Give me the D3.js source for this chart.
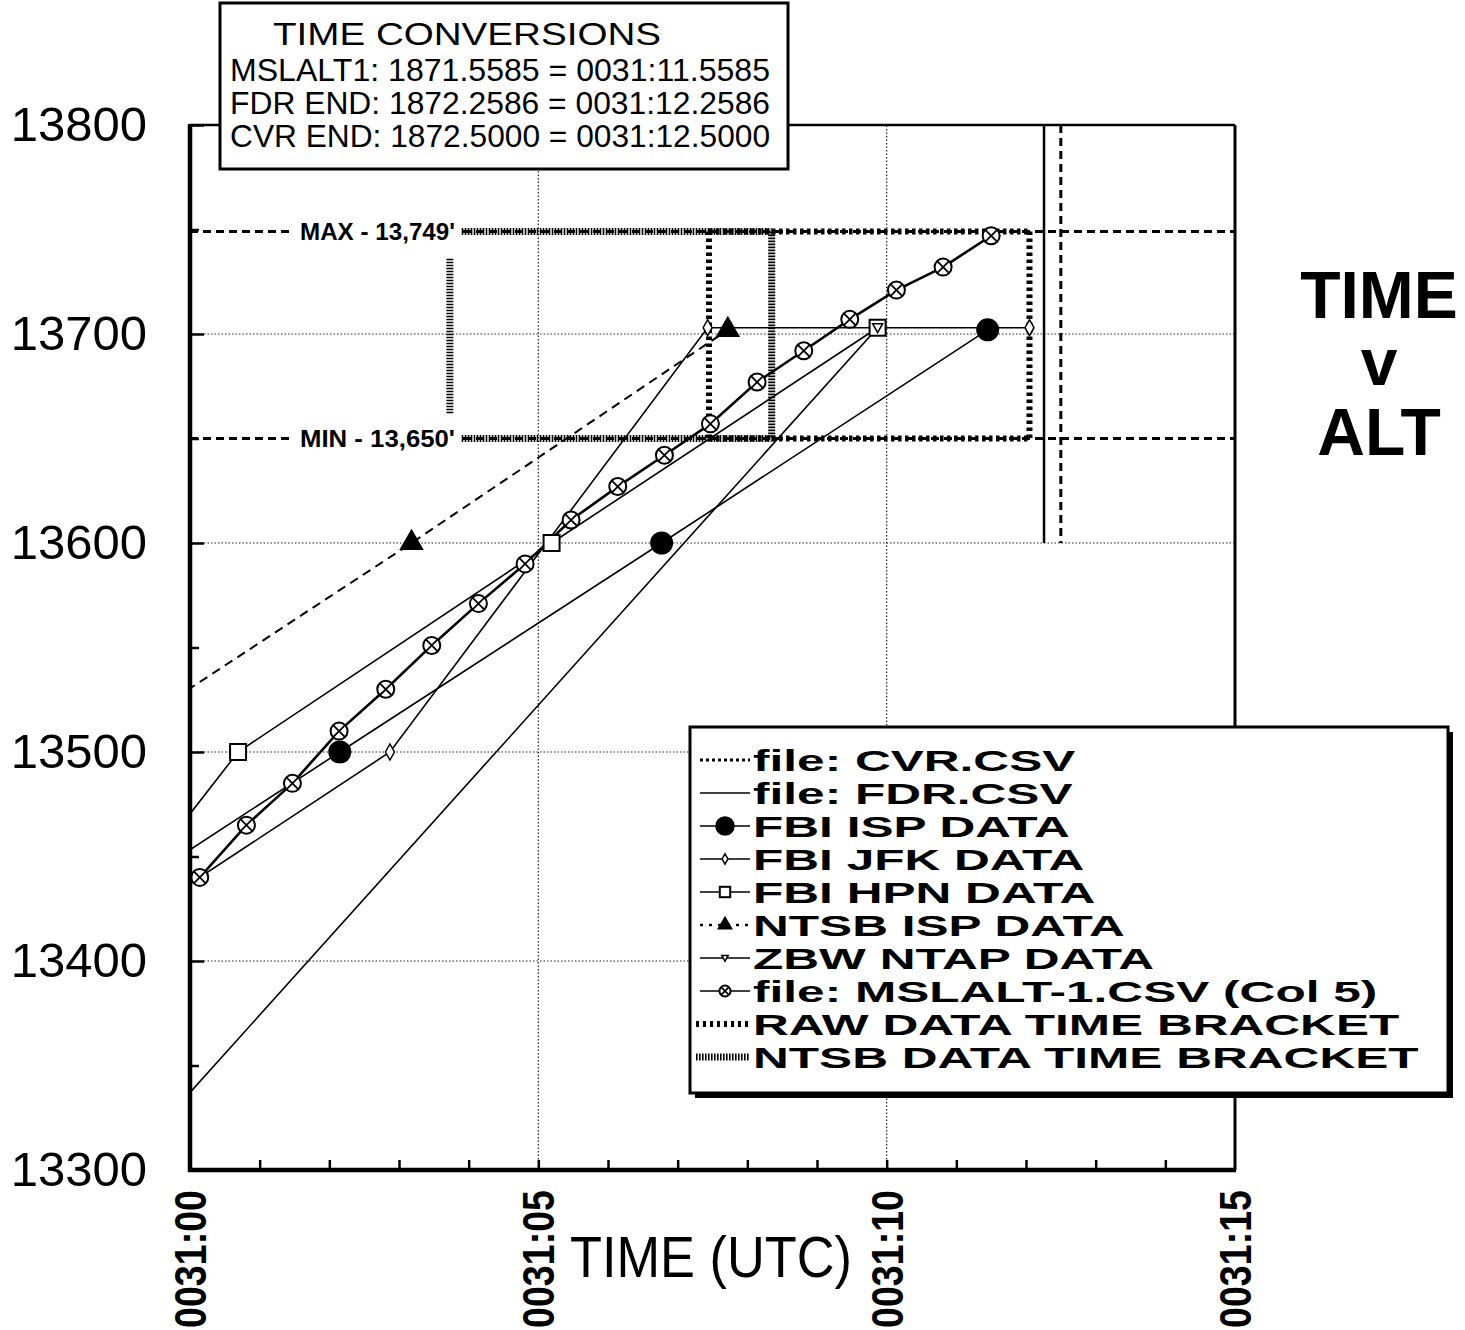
<!DOCTYPE html>
<html>
<head>
<meta charset="utf-8">
<script src="https://cdn.jsdelivr.net/npm/d3@7"></script>
<style>
  body { margin: 0; background: #fff; }
  text { font-family: "Liberation Sans", Arial, sans-serif; fill: #000; }
</style>
</head>
<body>
<div class="canvas"></div>
<script>
// times are seconds after 0031:00 UTC, altitudes in feet
const yTicks = [13300, 13400, 13500, 13600, 13700, 13800];
const xTicks = [0, 5, 10, 15];
const xTickLabels = ["0031:00", "0031:05", "0031:10", "0031:15"];

const mslaltTime = [0.14, 0.81, 1.47, 2.14, 2.81, 3.47, 4.14, 4.81, 5.47, 6.14, 6.81, 7.47, 8.14, 8.81, 9.47, 10.14, 10.81, 11.5];
const mslaltAlt = [13440, 13465, 13485, 13510, 13530, 13551, 13571, 13590, 13611, 13627, 13642, 13657, 13677, 13692, 13707, 13721, 13732, 13747];

const fbiIspTime = [-2.45, 2.15, 6.77, 11.45];
const fbiIspAlt = [13400, 13500, 13600, 13702];

const fbiJfkTime = [-1.68, 2.87, 7.43, 12.05];
const fbiJfkAlt = [13400, 13500, 13703, 13703];

const fbiHpnTime = [-1.64, 0.69, 5.19, 9.87];
const fbiHpnAlt = [13400, 13500, 13600, 13703];

const ntsbIspTime = [-1.3, 3.18, 7.72];
const ntsbIspAlt = [13502, 13600, 13702];

const zbwTime = [-1.0, 9.87];
const zbwAlt = [13300, 13703];

// recorder end times (FDR solid, CVR dashed)
const convNames = ["MSLALT1", "FDR END", "CVR END"];
const convSeconds = ["1871.5585", "1872.2586", "1872.5000"];
const convUtc = ["0031:11.5585", "0031:12.2586", "0031:12.5000"];
const fdrEnd = 12.2586, cvrEnd = 12.5;
const endLineAlt = [13800, 13600];

const maxAlt = 13749, minAlt = 13650;
const limitLabels = ["MAX - 13,749'", "MIN - 13,650'"];

const rawBracket = [
  [[7.45, maxAlt], [12.05, maxAlt]],
  [[7.45, minAlt], [12.05, minAlt]],
  [[7.45, maxAlt], [7.45, minAlt]],
  [[12.05, maxAlt], [12.05, minAlt]]
];
const ntsbBracket = [
  [[3.9, maxAlt], [8.35, maxAlt]],
  [[3.9, minAlt], [8.35, minAlt]],
  [[8.35, maxAlt], [8.35, minAlt]],
  [[3.73, 13736], [3.73, 13662]]
];

const legendNames = ["file: CVR.CSV", "file: FDR.CSV", "FBI ISP DATA", "FBI JFK DATA", "FBI HPN DATA",
  "NTSB ISP DATA", "ZBW NTAP DATA", "file: MSLALT-1.CSV (Col 5)", "RAW DATA TIME BRACKET", "NTSB DATA TIME BRACKET"];

const svg = d3.select(".canvas").append("svg")
  .attr("width", 1465)
  .attr("height", 1330);

const x = d3.scaleLinear().domain([0, 15]).range([190, 1235]);
const y = d3.scaleLinear().domain([13300, 13800]).range([1170, 125]);

svg.append("defs").append("clipPath").attr("id", "plot")
  .append("rect")
  .attr("x", x(0)).attr("y", y(13800))
  .attr("width", x(15) - x(0)).attr("height", y(13300) - y(13800));

// grid
const grid = svg.append("g").attr("stroke", "#222").attr("stroke-width", 1.2).attr("stroke-dasharray", "1.5,2");
grid.selectAll(".gy").data(yTicks.slice(1, -1)).join("line")
  .attr("x1", x(0)).attr("x2", x(15)).attr("y1", d => y(d)).attr("y2", d => y(d));
grid.selectAll(".gx").data(xTicks.slice(1, -1)).join("line")
  .attr("y1", y(13300)).attr("y2", y(13800)).attr("x1", d => x(d)).attr("x2", d => x(d));

// minor/major ticks pointing inward
svg.append("g").attr("transform", `translate(${x(0)},0)`)
  .call(d3.axisRight(y).tickValues(d3.range(13350, 13800, 100)).tickSize(9).tickFormat(""))
  .call(g => g.select(".domain").remove())
  .selectAll("line").attr("stroke-width", 2.5);
svg.append("g").attr("transform", `translate(${x(0)},0)`)
  .call(d3.axisRight(y).tickValues(yTicks).tickSize(14).tickFormat(""))
  .call(g => g.select(".domain").remove())
  .selectAll("line").attr("stroke-width", 2.5);
svg.append("g").attr("transform", `translate(0,${y(13300)})`)
  .call(d3.axisTop(x).tickValues(d3.range(1, 15, 1)).tickSize(10).tickFormat(""))
  .call(g => g.select(".domain").remove())
  .selectAll("line").attr("stroke-width", 2.5);

// y labels
svg.append("g").attr("transform", `translate(${x(0)},0)`)
  .call(d3.axisLeft(y).tickValues(yTicks).tickSize(0).tickPadding(43).tickFormat(d3.format("d")))
  .call(g => g.select(".domain").remove())
  .selectAll("text")
  .style("font-family", "'Liberation Sans', Arial, sans-serif")
  .attr("font-size", 49)
  .attr("fill", "#000");

// x labels (rotated)
svg.append("g").selectAll("text").data(xTicks).join("text")
  .attr("transform", d => `translate(${x(d) + 16},1190) rotate(-90)`)
  .attr("text-anchor", "end")
  .attr("font-size", 44)
  .attr("font-weight", "bold")
  .attr("textLength", 138)
  .attr("lengthAdjust", "spacingAndGlyphs")
  .text((d, i) => xTickLabels[i]);

svg.append("text")
  .attr("x", 570).attr("y", 1277)
  .attr("font-size", 58)
  .attr("textLength", 282)
  .attr("lengthAdjust", "spacingAndGlyphs")
  .text("TIME (UTC)");

// MAX / MIN dashed reference lines
const refs = svg.append("g");
refs.selectAll("line").data([maxAlt, minAlt]).join("line")
  .attr("x1", x(0)).attr("x2", x(15))
  .attr("y1", d => y(d)).attr("y2", d => y(d))
  .attr("stroke", "#000").attr("stroke-width", 3)
  .attr("stroke-dasharray", "8,5");
refs.selectAll("rect").data([maxAlt, minAlt]).join("rect")
  .attr("x", 293).attr("y", d => y(d) - 14).attr("width", 170).attr("height", 28)
  .attr("fill", "#fff");
refs.selectAll("text").data([maxAlt, minAlt]).join("text")
  .attr("x", 300).attr("y", d => y(d) + 8)
  .attr("font-size", 23).attr("font-weight", "bold")
  .attr("textLength", 155).attr("lengthAdjust", "spacingAndGlyphs")
  .text((d, i) => limitLabels[i]);

const line = d3.line().x(d => x(d[0])).y(d => y(d[1]));

// brackets
svg.append("g").selectAll("path").data(rawBracket).join("path")
  .attr("d", line).attr("fill", "none")
  .attr("stroke", "#000").attr("stroke-width", 6).attr("stroke-dasharray", "3.5,3.5");
svg.append("g").selectAll("path").data(ntsbBracket).join("path")
  .attr("d", line).attr("fill", "none")
  .attr("stroke", "#000").attr("stroke-width", 7).attr("stroke-dasharray", "1.6,1.4");

// recorder end verticals
svg.append("line")
  .attr("x1", x(fdrEnd)).attr("x2", x(fdrEnd)).attr("y1", y(endLineAlt[0])).attr("y2", y(endLineAlt[1]))
  .attr("stroke", "#000").attr("stroke-width", 2.5);
svg.append("line")
  .attr("x1", x(cvrEnd)).attr("x2", x(cvrEnd)).attr("y1", y(endLineAlt[0])).attr("y2", y(endLineAlt[1]))
  .attr("stroke", "#000").attr("stroke-width", 3).attr("stroke-dasharray", "8,5");

// series
const plot = svg.append("g").attr("clip-path", "url(#plot)");

const series = [
  { pts: d3.zip(zbwTime, zbwAlt), width: 1.6, dash: null, mark: "zbw" },
  { pts: d3.zip(ntsbIspTime, ntsbIspAlt), width: 2, dash: "9,6", mark: "tri" },
  { pts: d3.zip(fbiIspTime, fbiIspAlt), width: 1.6, dash: null, mark: "dot" },
  { pts: d3.zip(fbiJfkTime, fbiJfkAlt), width: 1.6, dash: null, mark: "diamond" },
  { pts: d3.zip(fbiHpnTime, fbiHpnAlt), width: 1.6, dash: null, mark: "square" },
  { pts: d3.zip(mslaltTime, mslaltAlt), width: 2.6, dash: null, mark: "otimes" }
];

function drawMark(g, type, scale) {
  const s = scale || 1;
  if (type === "dot") {
    g.append("circle").attr("r", 11.5 * s).attr("fill", "#000");
  } else if (type === "tri") {
    g.append("path").attr("d", d3.symbol(d3.symbolTriangle, 260 * s * s)()).attr("fill", "#000");
  } else if (type === "diamond") {
    g.append("path").attr("d", `M0,${-8 * s}L${4.5 * s},0L0,${8 * s}L${-4.5 * s},0Z`)
      .attr("fill", "#fff").attr("stroke", "#000").attr("stroke-width", 1.5);
  } else if (type === "square") {
    g.append("rect").attr("x", -8 * s).attr("y", -8 * s).attr("width", 16 * s).attr("height", 16 * s)
      .attr("fill", "#fff").attr("stroke", "#000").attr("stroke-width", 2);
  } else if (type === "zbw") {
    g.append("path").attr("d", `M${-5 * s},${-4 * s}L${5 * s},${-4 * s}L0,${5 * s}Z`)
      .attr("fill", "#fff").attr("stroke", "#000").attr("stroke-width", 1.5);
  } else if (type === "otimes") {
    const r = 8.5 * s, k = r * 0.7;
    g.append("circle").attr("r", r).attr("fill", "#fff").attr("stroke", "#000").attr("stroke-width", 2);
    g.append("path").attr("d", `M${-k},${-k}L${k},${k}M${-k},${k}L${k},${-k}`)
      .attr("stroke", "#000").attr("stroke-width", 1.8);
  }
}

series.forEach(sr => {
  plot.append("path")
    .attr("d", line(sr.pts))
    .attr("fill", "none")
    .attr("stroke", "#000")
    .attr("stroke-width", sr.width)
    .attr("stroke-dasharray", sr.dash);
});
// square marker first so the ZBW mark sits inside it
["square", "dot", "diamond", "tri", "zbw", "otimes"].forEach(type => {
  const sr = series.find(s => s.mark === type);
  sr.pts.forEach(p => {
    const g = plot.append("g").attr("transform", `translate(${x(p[0])},${y(p[1])})`);
    drawMark(g, type, 1);
  });
});

// frame
svg.append("line").attr("x1", x(0)).attr("x2", x(15)).attr("y1", y(13800)).attr("y2", y(13800))
  .attr("stroke", "#000").attr("stroke-width", 2.5);
svg.append("line").attr("x1", x(15)).attr("x2", x(15)).attr("y1", y(13800)).attr("y2", y(13300))
  .attr("stroke", "#000").attr("stroke-width", 3);
svg.append("line").attr("x1", x(0)).attr("x2", x(0)).attr("y1", y(13800) - 1).attr("y2", y(13300) + 2)
  .attr("stroke", "#000").attr("stroke-width", 4.5);
svg.append("line").attr("x1", x(0) - 2).attr("x2", x(15) + 1).attr("y1", y(13300)).attr("y2", y(13300))
  .attr("stroke", "#000").attr("stroke-width", 4.5);

// title
const title = svg.append("g").attr("text-anchor", "middle").attr("font-weight", "bold").attr("font-size", 66);
title.append("text").attr("x", 1379).attr("y", 318).text("TIME");
title.append("text").attr("x", 1379).attr("y", 385).text("v");
title.append("text").attr("x", 1379).attr("y", 455).text("ALT");

// time conversions box
const conv = svg.append("g");
conv.append("rect").attr("x", 220).attr("y", 3).attr("width", 568).attr("height", 166)
  .attr("fill", "#fff").attr("stroke", "#000").attr("stroke-width", 3);
conv.append("text").attr("x", 273).attr("y", 45).attr("font-size", 32)
  .attr("textLength", 388).attr("lengthAdjust", "spacingAndGlyphs").text("TIME CONVERSIONS");
convNames.forEach((n, i) => {
  conv.append("text").attr("x", 230).attr("y", 81 + i * 33).attr("font-size", 32)
    .attr("textLength", 540).attr("lengthAdjust", "spacingAndGlyphs")
    .text(`${n}: ${convSeconds[i]} = ${convUtc[i]}`);
});

// legend
const leg = svg.append("g");
leg.append("rect").attr("x", 695).attr("y", 732).attr("width", 758).attr("height", 366).attr("fill", "#000");
leg.append("rect").attr("x", 690).attr("y", 727).attr("width", 758).attr("height", 366)
  .attr("fill", "#fff").attr("stroke", "#000").attr("stroke-width", 3);

const legendMarks = [null, null, "dot", "diamond", "square", "tri", "zbw", "otimes", null, null];
legendNames.forEach((name, i) => {
  const cy = 760 + i * 33;
  const row = leg.append("g");
  let stroke = { w: 1.6, dash: null };
  if (i === 0) stroke = { w: 3, dash: "3,3" };
  if (i === 5) stroke = { w: 2.5, dash: "3,6" };
  if (i === 8) stroke = { w: 6, dash: "3,4" };
  if (i === 9) stroke = { w: 7, dash: "1.6,1.4" };
  row.append("line").attr("x1", i >= 8 ? 696 : 700).attr("x2", 750).attr("y1", cy).attr("y2", cy)
    .attr("stroke", "#000").attr("stroke-width", stroke.w).attr("stroke-dasharray", stroke.dash);
  if (legendMarks[i]) {
    const g = row.append("g").attr("transform", `translate(725,${cy})`);
    drawMark(g, legendMarks[i], legendMarks[i] === "dot" ? 0.85 : 0.65);
  }
  row.append("text")
    .attr("transform", `translate(753,${cy + 11}) scale(1.71,1)`)
    .attr("font-size", 29).attr("font-weight", "bold")
    .text(name);
});
</script>
</body>
</html>
